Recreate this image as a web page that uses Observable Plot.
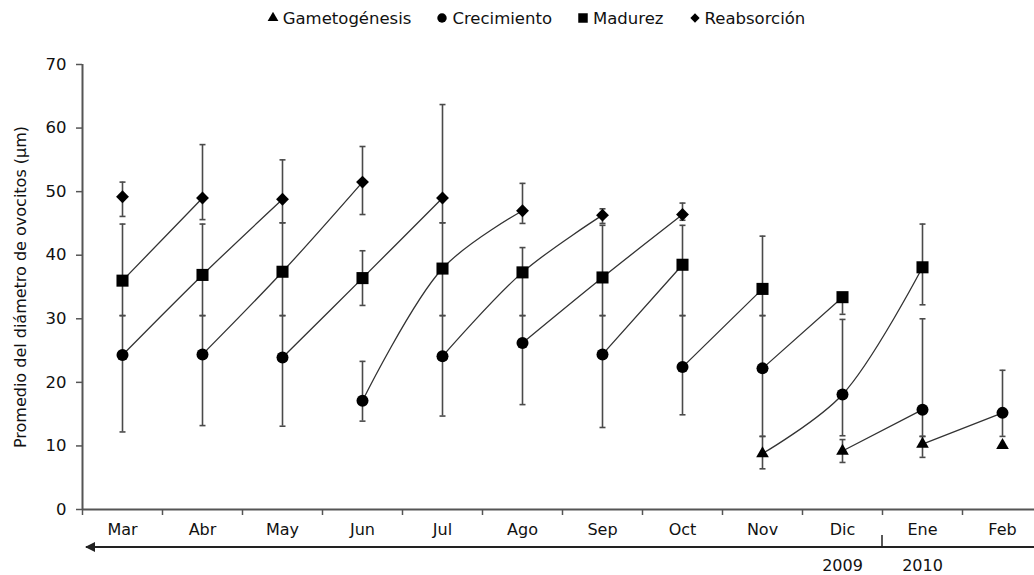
<!DOCTYPE html>
<html><head><meta charset="utf-8">
<script src="https://cdn.jsdelivr.net/npm/d3@7"></script>
<script src="https://cdn.jsdelivr.net/npm/@observablehq/plot@0.6"></script>
<style>
body{margin:0;background:#fff;font-family:"DejaVu Sans",sans-serif;}
#legend{height:36px;display:flex;justify-content:center;align-items:center;gap:25px;font-size:16.5px;color:#111;padding-left:38px;box-sizing:border-box;width:1034px;}
#legend span{display:flex;align-items:center;gap:4px;}
#chart svg{display:block;}
</style></head><body>
<div id="legend"></div><div id="chart"></div>
<script>
const months = ["Mar","Abr","May","Jun","Jul","Ago","Sep","Oct","Nov","Dic","Ene","Feb"];
const stages = ["Gametogénesis","Crecimiento","Madurez","Reabsorción"];
const yTicks = [0,10,20,30,40,50,60,70];
const yearLabels = ["2009","2010"];
const yearMonths = ["Dic","Ene"];

const gametoMean = [null,null,null,null,null,null,null,null,8.8,9.2,10.3,10.1];
const gametoLow  = [null,null,null,null,null,null,null,null,6.4,7.4,8.2,null];
const gametoHigh = [null,null,null,null,null,null,null,null,11.5,11.0,11.5,null];

const crecMean = [24.3,24.4,23.9,17.1,24.1,26.2,24.4,22.4,22.2,18.1,15.7,15.2];
const crecLow  = [12.2,13.2,13.1,13.9,14.7,16.5,12.9,14.9,11.5,11.6,11.5,11.5];
const crecHigh = [30.5,30.5,30.5,23.3,30.5,30.5,30.5,30.5,30.5,29.9,30.0,21.9];

const madMean = [36.0,36.9,37.4,36.4,37.9,37.3,36.5,38.5,34.7,33.4,38.1,null];
const madLow  = [30.5,30.5,30.5,32.1,30.5,30.5,30.5,30.5,30.5,30.7,32.2,null];
const madHigh = [44.9,44.9,45.1,40.7,45.1,41.2,44.7,44.7,43.0,34.0,44.9,null];

const reabMean = [49.2,49.0,48.8,51.5,49.0,47.0,46.3,46.4,null,null,null,null];
const reabLow  = [46.1,45.6,45.1,46.4,45.1,45.0,45.0,45.5,null,null,null,null];
const reabHigh = [51.5,57.4,55.0,57.1,63.7,51.3,47.3,48.2,null,null,null,null];

const series = [
  {mean: gametoMean, lo: gametoLow, hi: gametoHigh, symbol: "triangle", r: 4.7},
  {mean: crecMean, lo: crecLow, hi: crecHigh, symbol: "circle", r: 6},
  {mean: madMean, lo: madLow, hi: madHigh, symbol: "square", r: 6.8},
  {mean: reabMean, lo: reabLow, hi: reabHigh, symbol: "diamond2", r: 5.8}
];

const points = [];
series.forEach((s, si) => {
  months.forEach((m, i) => {
    if (s.mean[i] != null) points.push({i, si, stage: stages[si], mean: s.mean[i], lo: s.lo[i], hi: s.hi[i], z: i - si});
  });
});
const bars = points.filter(d => d.lo != null);
const caps = bars.flatMap(d => [{i: d.i, v: d.lo}, {i: d.i, v: d.hi}]);
const capSymbol = {draw(ctx) { ctx.moveTo(-3, 0); ctx.lineTo(3, 0); }};
const monthIdx = months.map((m, i) => i);
const boundaries = months.map((m, i) => i - 0.5).concat([months.length - 0.5]);
const years = yearLabels.map((t, k) => ({t, i: months.indexOf(yearMonths[k])}));

const font = "DejaVu Sans, sans-serif";
const chart = Plot.plot({
  width: 1034, height: 539,
  marginLeft: 82, marginRight: -8, marginTop: 28, marginBottom: 66,
  style: {fontFamily: font, fontSize: "16px", color: "#111", background: "#fff", overflow: "visible"},
  x: {domain: [-0.5, months.length - 0.5], axis: null},
  y: {domain: [0, 70], axis: null},
  marks: [
    Plot.line(points, {x: "i", y: "mean", z: "z", curve: "catmull-rom", stroke: "#333", strokeWidth: 1.3}),
    Plot.ruleX(bars, {x: "i", y1: "lo", y2: "hi", stroke: "#4a4a4a", strokeWidth: 1.6}),
    Plot.dot(caps, {x: "i", y: "v", symbol: capSymbol, stroke: "#4a4a4a", strokeWidth: 1.6, fill: "none"}),
    ...series.map((s, si) => Plot.dot(points.filter(d => d.si === si), {x: "i", y: "mean", symbol: s.symbol, r: s.r, fill: "#000", stroke: "none"})),
    Plot.ruleX([-0.5], {stroke: "#555", strokeWidth: 2}),
    Plot.ruleY([0], {stroke: "#555", strokeWidth: 2}),
    Plot.axisY({ticks: yTicks, tickSize: 6, tickPadding: 10, label: null, fontSize: 16.5, stroke: "#555", strokeWidth: 1.5}),
    Plot.axisX({ticks: monthIdx, tickFormat: i => months[i], tickSize: 0, tickPadding: 14, label: null, fontSize: 16}),
    Plot.axisX({ticks: boundaries, tickFormat: () => "", tickSize: 6, label: null, stroke: "#555", strokeWidth: 1.5}),
    Plot.text(["Promedio del diámetro de ovocitos (µm)"], {frameAnchor: "left", textAnchor: "middle", lineAnchor: "middle", dx: -62, rotate: -90, fontSize: 16, fill: "#111"}),
    Plot.text(years, {x: "i", text: "t", frameAnchor: "bottom", dy: 56, lineAnchor: "middle", fontSize: 16, fill: "#111"})
  ]
});

// baseline arrow and year separator
const xs = chart.scale("x");
const svg = d3.select(chart);
const ay = 539 - 66 + 38;
const defs = svg.append("defs");
defs.append("marker").attr("id", "ah").attr("viewBox", "0 0 10 10").attr("refX", 1).attr("refY", 5)
  .attr("markerWidth", 5).attr("markerHeight", 5).attr("orient", "auto")
  .append("path").attr("d", "M10,0L0,5L10,10z").attr("fill", "#222");
svg.append("line").attr("x1", xs.apply(-0.5) + 4).attr("x2", xs.apply(months.length - 0.5)).attr("y1", ay).attr("y2", ay)
  .attr("stroke", "#222").attr("stroke-width", 2).attr("marker-start", "url(#ah)");
const sep = xs.apply(months.indexOf("Ene") - 0.5);
svg.append("line").attr("x1", sep).attr("x2", sep).attr("y1", ay - 12).attr("y2", ay).attr("stroke", "#222").attr("stroke-width", 1.5);

document.getElementById("chart").appendChild(chart);

// legend
const legend = d3.select("#legend");
const shapes = [d3.symbolTriangle, d3.symbolCircle, d3.symbolSquare, d3.symbolDiamond2];
const sizes = [50, 70, 90, 55];
stages.forEach((s, k) => {
  const item = legend.append("span");
  const sv = item.append("svg").attr("width", 12).attr("height", 12).attr("viewBox", "-6 -6 12 12");
  sv.append("path").attr("d", d3.symbol(shapes[k], sizes[k])()).attr("fill", "#000");
  item.append("span").text(s);
});
</script>
</body></html>
